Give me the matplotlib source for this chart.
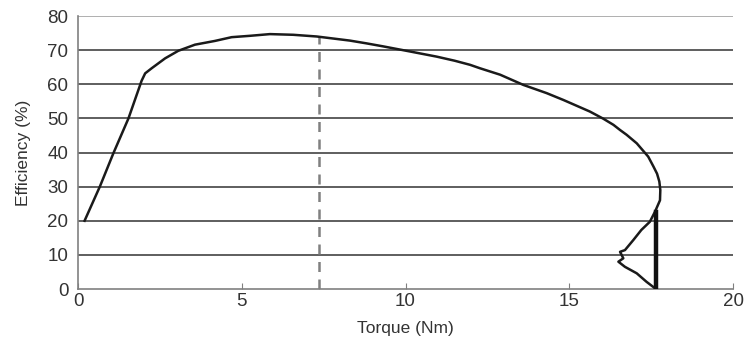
import matplotlib
matplotlib.use("Agg")
import matplotlib.pyplot as plt

plt.rcParams['font.family'] = ['Liberation Sans Narrow', 'Liberation Sans', 'DejaVu Sans']

# Main efficiency curve (torque Nm, efficiency %)
torque = [0.2, 0.67, 1.08, 1.54, 1.94, 2.05, 2.25, 2.66, 3.06, 3.57, 4.18, 4.69,
          5.25, 5.86, 6.57, 7.29, 8.3, 8.8, 9.32, 10.14, 10.95, 11.5, 11.97,
          12.27, 12.89, 13.6, 14.31, 14.82, 15.63, 16.04, 16.35, 16.55, 16.75,
          17.06, 17.41, 17.57, 17.68, 17.75, 17.78, 17.77, 17.62, 17.46, 17.2,
          16.96, 16.7, 16.55, 16.65, 16.5, 16.7, 17.06, 17.36, 17.62]
efficiency = [20, 30.1, 39.8, 50, 61, 63.2, 64.7, 67.6, 69.8, 71.6, 72.7, 73.8,
              74.2, 74.7, 74.5, 74.0, 72.8, 72.0, 71.1, 69.6, 68.1, 66.9, 65.7,
              64.7, 62.8, 59.8, 57.4, 55.4, 52.0, 49.9, 48.1, 46.6, 45.2,
              42.7, 38.8, 35.9, 33.8, 31.5, 29, 26, 22.7, 19.7, 17.3,
              14.4, 11.4, 10.9, 9.0, 8.0, 6.5, 4.6, 2.1, 0.2]

# Vertical drop segment at max torque
drop_torque = [17.66, 17.66]
drop_eff = [0, 22.5]

# Dashed marker line
marker_torque = 7.36
marker_eff = [0, 74]

xticks = [0, 5, 10, 15, 20]
yticks = [0, 10, 20, 30, 40, 50, 60, 70, 80]

fig = plt.figure(figsize=(7.46, 3.49), dpi=100)
ax = fig.add_axes([0.1046, 0.1719, 0.8780, 0.7822])

for y in yticks[1:]:
    ax.axhline(y, color='#9a9a9a' if y == 80 else '#333333', lw=1.1, zorder=1)

ax.plot([marker_torque, marker_torque], marker_eff, color='#808080', lw=1.8,
        dashes=(4, 3), zorder=2)
ax.plot(torque, efficiency, color='#1a1a1a', lw=1.8, zorder=3)
ax.plot(drop_torque, drop_eff, color='#111111', lw=3.2, zorder=3)

ax.set_xlim(0, 20)
ax.set_ylim(0, 80)
ax.set_xticks(xticks)
ax.set_yticks(yticks)
ax.set_xticks([marker_torque], minor=True)

for s in ['top', 'right']:
    ax.spines[s].set_visible(False)
for s in ['left', 'bottom']:
    ax.spines[s].set_color('#808080')
    ax.spines[s].set_linewidth(1.2)

ax.tick_params(axis='x', which='both', direction='in', length=4, color='#808080',
               labelsize=13.5, labelcolor='#333333', pad=3)
ax.tick_params(axis='y', length=0, labelsize=13.5, labelcolor='#333333', pad=7)

ax.set_xlabel('Torque (Nm)', fontsize=12.5, color='#333333', labelpad=8)
ax.set_ylabel('Efficiency (%)', fontsize=12.5, color='#333333', labelpad=12)

fig.savefig('out.png', dpi=100, facecolor='white')
